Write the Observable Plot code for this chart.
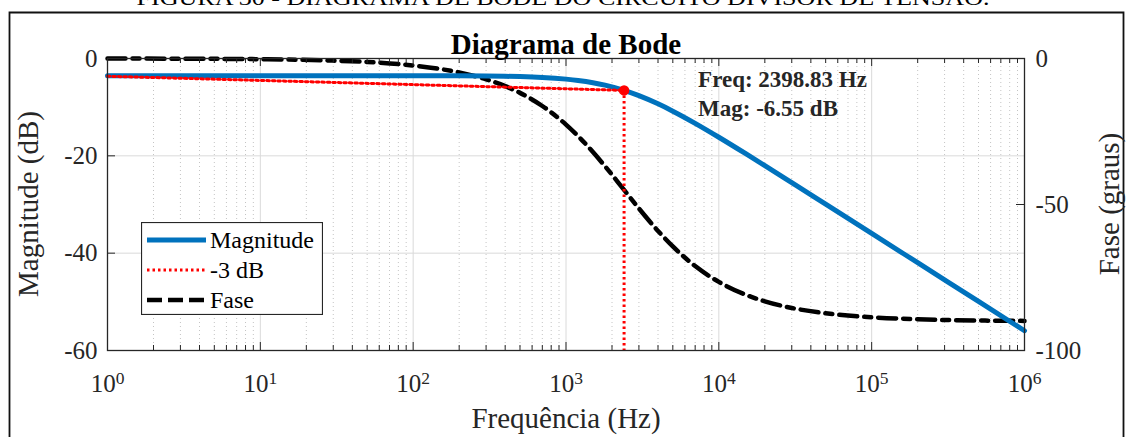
<!DOCTYPE html>
<html>
<head>
<meta charset="utf-8">
<script src="https://cdn.jsdelivr.net/npm/d3@7"></script>
<script src="https://cdn.jsdelivr.net/npm/@observablehq/plot@0.6"></script>
<style>
  html, body { margin: 0; padding: 0; background: #fff; }
  #wrap { position: relative; width: 1126px; height: 437px; overflow: hidden; background: #fff; font-family: "Liberation Serif", "Times New Roman", serif; }
  #wrap > * { position: absolute; }
</style>
</head>
<body>
<div id="wrap"></div>
<script>
// ---- data ----
const freqs     = [1, 3, 10, 30, 50, 100, 150, 200, 300, 400, 500, 700, 1000, 1200, 1500, 1800, 2398.83, 3000, 4000, 5000, 7000, 10000, 15000, 20000, 30000, 50000, 100000, 200000, 500000, 1000000];
const magnitude = [-3.54, -3.54, -3.54, -3.54, -3.54, -3.55, -3.56, -3.57, -3.61, -3.66, -3.72, -3.89, -4.24, -4.51, -4.97, -5.48, -6.55, -7.63, -9.32, -10.82, -13.32, -16.18, -19.57, -22.02, -25.51, -29.93, -35.94, -41.96, -49.92, -55.94];
const phase     = [-0.02, -0.07, -0.24, -0.72, -1.19, -2.39, -3.58, -4.77, -7.13, -9.47, -11.77, -16.27, -22.63, -26.58, -32.02, -36.88, -45.0, -51.35, -59.05, -64.37, -71.09, -76.51, -80.91, -83.16, -85.43, -87.25, -88.63, -89.31, -89.73, -89.86];
const refFreq   = [1, 2398.83];
const refMag    = [-3.65, -6.55];
const markerFreq = 2398.83;
const markerMag  = -6.55;
const decades    = [1, 10, 100, 1000, 10000, 100000, 1000000];
const decadeLabels = ["10^0", "10^1", "10^2", "10^3", "10^4", "10^5", "10^6"];
const magTicks   = [0, -20, -40, -60];
const phaseTicks = [0, -50, -100];
const seriesNames = ["Magnitude", "-3 dB", "Fase"];

// phase (degrees, right axis -100..0) shown in the magnitude scale (-60..0)
const phaseToMag = 60 / 100;

const magData   = freqs.map((f, i) => ({f, v: magnitude[i]}));
const phaseData = freqs.map((f, i) => ({f, v: phase[i] * phaseToMag}));
const refData   = refFreq.map((f, i) => ({f, v: refMag[i]}));
const minorTicks = d3.scaleLog().domain([1, 1e6]).ticks().filter(t => !decades.includes(t));

const ML = 107, MR = 102, MT = 58, MB = 87, W = 1126, H = 437;
const FW = W - ML - MR, FH = H - MT - MB;
const axisColor = "#262626";
const font = "Liberation Serif";

const chart = Plot.plot({
  width: W, height: H,
  marginLeft: ML, marginRight: MR, marginTop: MT, marginBottom: MB,
  style: {fontFamily: font, background: "transparent", color: axisColor, overflow: "visible"},
  x: {type: "log", domain: [1, 1e6]},
  y: {domain: [-60, 0]},
  marks: [
    // grid
    Plot.ruleX(minorTicks, {x: d => d, stroke: "#c4c4c4", strokeDasharray: "1,3", strokeWidth: 1}),
    Plot.ruleX(decades, {x: d => d, stroke: "#dadada", strokeWidth: 1}),
    Plot.ruleY([-20, -40], {y: d => d, stroke: "#dadada", strokeWidth: 1}),
    // series
    Plot.line(phaseData, {x: "f", y: "v", stroke: "#000", strokeWidth: 4.5, strokeDasharray: "18,7,7,7", curve: "monotone-x"}),
    Plot.line(magData, {x: "f", y: "v", stroke: "#0072BD", strokeWidth: 5, curve: "monotone-x"}),
    Plot.line(refData, {x: "f", y: "v", stroke: "#ff0000", strokeWidth: 3, strokeDasharray: "2.5,3"}),
    Plot.ruleX([markerFreq], {x: d => d, y1: markerMag, y2: -60, stroke: "#ff0000", strokeWidth: 3, strokeDasharray: "2.5,3"}),
    Plot.dot([{f: markerFreq, v: markerMag}], {x: "f", y: "v", r: 4.5, fill: "#ff0000", stroke: "#ff0000"}),
    Plot.text([`Freq: ${markerFreq} Hz\nMag: ${markerMag} dB`], {
      x: () => markerFreq, y: () => markerMag, text: d => d,
      textAnchor: "start", lineAnchor: "middle", dx: 74, dy: 2, lineHeight: 1.25,
      fontSize: 23, fontWeight: "bold", fill: "#262626"
    }),
    // frame + inward ticks
    Plot.frame({stroke: axisColor, strokeWidth: 1.3}),
    Plot.tickX(decades, {x: d => d, stroke: axisColor, insetTop: FH - 8}),
    Plot.tickX(decades, {x: d => d, stroke: axisColor, insetBottom: FH - 8}),
    Plot.tickX(minorTicks, {x: d => d, stroke: axisColor, insetTop: FH - 5}),
    Plot.tickX(minorTicks, {x: d => d, stroke: axisColor, insetBottom: FH - 5}),
    Plot.tickY(magTicks, {y: d => d, stroke: axisColor, insetRight: FW - 8}),
    Plot.tickY(phaseTicks.map(p => p * phaseToMag), {y: d => d, stroke: axisColor, insetLeft: FW - 8}),
    // axes
    Plot.axisX({ticks: decades, tickSize: 0, tickPadding: 24, fontSize: 25, label: null,
      tickFormat: d => decadeLabels[decades.indexOf(d)]}),
    Plot.axisY({ticks: magTicks, tickSize: 0, tickPadding: 10, fontSize: 25, label: null, tickFormat: d => String(d)}),
    Plot.axisY({anchor: "right", ticks: phaseTicks.map(p => p * phaseToMag), tickSize: 0, tickPadding: 11, fontSize: 25, label: null,
      tickFormat: d => String(phaseTicks[Math.round(-d / (100 * phaseToMag) * 2)])}),
    // titles
    Plot.text(["Diagrama de Bode"], {frameAnchor: "top", text: d => d, dy: -25, fontSize: 29, fontWeight: "bold", fill: "#000"}),
    Plot.text(["Frequência (Hz)"], {frameAnchor: "bottom", text: d => d, dy: 77, fontSize: 29, fill: "#262626"})
  ]
});

// superscript exponents on the decade labels
d3.select(chart).selectAll('g[aria-label="x-axis tick label"] text').each(function () {
  const t = this.textContent;
  if (t.includes("^")) {
    const [b, e] = t.split("^");
    const s = d3.select(this);
    s.text(b);
    s.append("tspan").attr("dy", "-0.5em").attr("font-size", "0.7em").text(e);
  }
});

const wrap = document.getElementById("wrap");
chart.style.left = "0px"; chart.style.top = "0px";
wrap.appendChild(chart);

// outer figure frame, cut-off caption and the vertical axis titles
const deco = d3.select(wrap).append("svg").attr("width", W).attr("height", H)
  .style("left", "0px").style("top", "0px").style("pointer-events", "none");
deco.append("text").attr("x", 563).attr("y", 5).attr("text-anchor", "middle")
  .attr("font-family", font).attr("font-size", 21).attr("textLength", 853).attr("lengthAdjust", "spacingAndGlyphs")
  .attr("fill", "#000").text("FIGURA 30 - DIAGRAMA DE BODE DO CIRCUITO DIVISOR DE TENSÃO.");
deco.append("path").attr("d", "M9.5,460 V12.5 H1123.5 V460").attr("fill", "none").attr("stroke", "#111").attr("stroke-width", 1.8);
const midY = MT + FH / 2;
deco.append("text").attr("transform", `translate(28,${midY}) rotate(-90)`).attr("text-anchor", "middle").attr("dy", "0.34em")
  .attr("font-family", font).attr("font-size", 29).attr("fill", "#262626").text("Magnitude (dB)");
deco.append("text").attr("transform", `translate(1109,${midY}) rotate(-90)`).attr("text-anchor", "middle").attr("dy", "0.34em")
  .attr("font-family", font).attr("font-size", 29).attr("fill", "#262626").text("Fase (graus)");

// legend box
const lg = d3.select(wrap).append("svg").attr("width", 182).attr("height", 93)
  .style("left", "141px").style("top", "222px");
lg.append("rect").attr("x", 0.5).attr("y", 0.5).attr("width", 181).attr("height", 92)
  .attr("fill", "#fff").attr("stroke", axisColor).attr("stroke-width", 1.2);
const legendStyles = [
  {stroke: "#0072BD", width: 5, dash: null},
  {stroke: "#ff0000", width: 3, dash: "2.5,3"},
  {stroke: "#000", width: 4.5, dash: "15,6"}
];
seriesNames.forEach((name, i) => {
  const y = 18 + i * 30;
  const st = legendStyles[i];
  lg.append("line").attr("x1", 6).attr("x2", 65).attr("y1", y).attr("y2", y)
    .attr("stroke", st.stroke).attr("stroke-width", st.width).attr("stroke-dasharray", st.dash);
  lg.append("text").attr("x", 69).attr("y", y).attr("dy", "0.34em")
    .attr("font-family", font).attr("font-size", 24).attr("fill", "#000").text(name);
});
</script>
</body>
</html>
